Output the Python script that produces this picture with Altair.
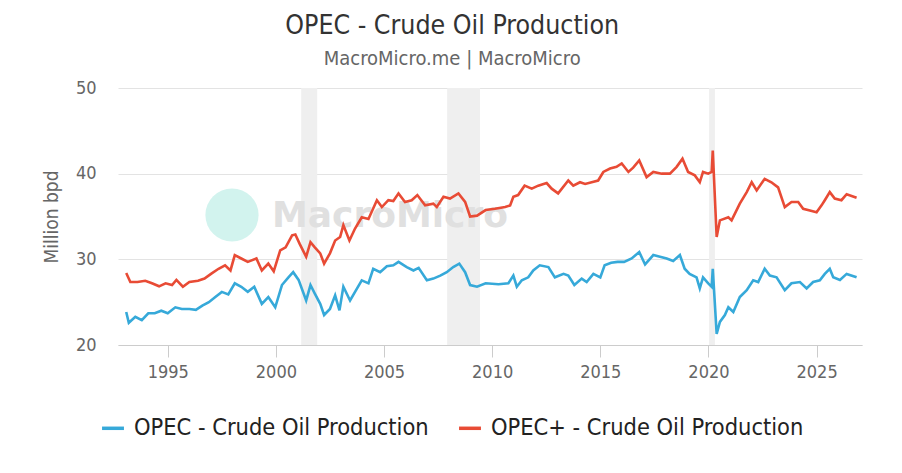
import altair as alt
import pandas as pd

# ---- data ----
opec_years = [1993.08, 1993.2, 1993.5, 1993.8, 1994.1, 1994.4, 1994.7, 1995.0, 1995.35, 1995.65,
              1996.0, 1996.3, 1996.6, 1996.9, 1997.2, 1997.5, 1997.8, 1998.1, 1998.4, 1998.7,
              1999.0, 1999.35, 1999.65, 1999.97, 2000.28, 2000.58, 2000.8, 2001.05, 2001.4, 2001.6,
              2001.8, 2002.05, 2002.23, 2002.5, 2002.74, 2002.94, 2003.12, 2003.43, 2003.66, 2003.97,
              2004.28, 2004.5, 2004.82, 2005.13, 2005.43, 2005.67, 2006.05, 2006.36, 2006.6, 2006.98,
              2007.28, 2007.6, 2007.9, 2008.2, 2008.48, 2008.75, 2008.98, 2009.3, 2009.7, 2010.29,
              2010.75, 2010.98, 2011.14, 2011.37, 2011.67, 2011.9, 2012.2, 2012.6, 2012.9, 2013.3,
              2013.52, 2013.8, 2014.14, 2014.37, 2014.68, 2015.0, 2015.2, 2015.5, 2015.8, 2016.1,
              2016.45, 2016.8, 2017.07, 2017.45, 2017.76, 2018.07, 2018.37, 2018.68, 2018.9, 2019.13,
              2019.45, 2019.6, 2019.75, 2019.99, 2020.15, 2020.2, 2020.38, 2020.53, 2020.76, 2020.92,
              2021.15, 2021.45, 2021.77, 2022.07, 2022.3, 2022.6, 2022.84, 2023.15, 2023.53, 2023.84,
              2024.23, 2024.54, 2024.84, 2025.15, 2025.38, 2025.61, 2025.77, 2026.08, 2026.39, 2026.85]
opec_values = [23.85, 22.6, 23.3, 22.9, 23.7, 23.7, 24.0, 23.7, 24.4, 24.2,
               24.2, 24.1, 24.6, 25.0, 25.6, 26.2, 25.9, 27.2, 26.8, 26.2,
               26.8, 24.8, 25.6, 24.4, 27.0, 27.9, 28.5, 27.6, 25.2, 27.0,
               26.0, 24.8, 23.5, 24.2, 25.8, 24.05, 26.8, 25.2, 26.2, 27.55,
               27.2, 28.9, 28.5, 29.2, 29.3, 29.7, 29.1, 28.7, 29.0, 27.55,
               27.75, 28.1, 28.5, 29.1, 29.5, 28.5, 27.0, 26.8, 27.2, 27.1,
               27.2, 28.1, 26.8, 27.55, 27.9, 28.7, 29.3, 29.1, 27.9, 28.3,
               28.1, 27.0, 27.75, 27.35, 28.3, 27.9, 29.3, 29.6, 29.7, 29.7,
               30.1, 30.85, 29.4, 30.5, 30.3, 30.1, 29.8, 30.5, 28.9, 28.3,
               27.9, 26.6, 27.9, 27.2, 26.8, 28.9, 21.3, 22.7, 23.5, 24.4,
               23.85, 25.6, 26.4, 27.55, 27.35, 28.9, 28.1, 27.9, 26.4, 27.2,
               27.35, 26.6, 27.35, 27.55, 28.3, 28.9, 27.9, 27.6, 28.3, 27.9]

plus_years = [1993.08, 1993.27, 1993.6, 1993.96, 1994.27, 1994.6, 1994.9, 1995.2, 1995.4, 1995.7,
              1996.0, 1996.4, 1996.7, 1997.0, 1997.35, 1997.65, 1997.9, 1998.1, 1998.4, 1998.7,
              1999.1, 1999.35, 1999.65, 1999.9, 2000.2, 2000.45, 2000.75, 2000.9, 2001.1, 2001.4,
              2001.6, 2001.8, 2002.05, 2002.23, 2002.5, 2002.74, 2002.97, 2003.12, 2003.4, 2003.66,
              2003.97, 2004.28, 2004.67, 2004.9, 2005.2, 2005.43, 2005.67, 2005.97, 2006.28, 2006.54,
              2006.9, 2007.28, 2007.44, 2007.75, 2008.05, 2008.44, 2008.75, 2008.98, 2009.3, 2009.7,
              2010.13, 2010.6, 2010.83, 2010.98, 2011.2, 2011.5, 2011.83, 2012.13, 2012.52, 2012.75,
              2013.05, 2013.52, 2013.75, 2014.06, 2014.3, 2014.6, 2014.9, 2015.14, 2015.45, 2015.75,
              2015.99, 2016.3, 2016.52, 2016.8, 2017.14, 2017.45, 2017.84, 2018.22, 2018.53, 2018.8,
              2019.06, 2019.37, 2019.6, 2019.75, 2019.99, 2020.15, 2020.2, 2020.38, 2020.53, 2020.92,
              2021.07, 2021.45, 2021.77, 2022.0, 2022.23, 2022.6, 2022.91, 2023.22, 2023.53, 2023.84,
              2024.15, 2024.38, 2024.69, 2025.0, 2025.23, 2025.38, 2025.61, 2025.84, 2026.15, 2026.39,
              2026.85]
plus_values = [28.4, 27.35, 27.35, 27.5, 27.2, 26.85, 27.2, 27.0, 27.6, 26.8,
               27.35, 27.5, 27.75, 28.3, 28.9, 29.3, 28.7, 30.5, 30.1, 29.7,
               30.1, 28.7, 29.5, 28.6, 31.05, 31.4, 32.8, 32.9, 31.8, 30.3,
               32.0, 31.4, 30.7, 29.5, 30.7, 32.2, 32.6, 34.0, 32.2, 33.6,
               34.9, 34.7, 36.9, 36.1, 36.9, 36.8, 37.7, 36.7, 36.9, 37.5,
               36.3, 36.5, 36.1, 37.3, 37.1, 37.7, 36.7, 35.0, 35.1, 35.75,
               35.9, 36.1, 36.3, 37.3, 37.5, 38.6, 38.25, 38.6, 38.9, 38.25,
               37.7, 39.2, 38.6, 39.0, 38.8, 39.0, 39.2, 40.2, 40.6, 40.8,
               41.2, 40.2, 40.7, 41.55, 39.6, 40.2, 40.0, 40.0, 40.8, 41.75,
               40.2, 39.8, 39.0, 40.2, 40.0, 40.2, 42.7, 32.6, 34.55, 34.9,
               34.55, 36.5, 37.85, 39.0, 38.05, 39.4, 39.0, 38.4, 36.1, 36.7,
               36.7, 35.9, 35.7, 35.5, 36.3, 36.9, 37.85, 37.1, 36.9, 37.6,
               37.2]

series_names = ["OPEC - Crude Oil Production", "OPEC+ - Crude Oil Production"]
series_colors = ["#36a9d9", "#e84b35"]

band_starts = [2001.17, 2007.92, 2020.03]
band_ends = [2001.91, 2009.44, 2020.30]

x_ticks = [1995, 2000, 2005, 2010, 2015, 2020, 2025]
y_ticks = [20, 30, 40, 50]

# ---- tables ----
lines_df = pd.concat([
    pd.DataFrame({"year": opec_years, "value": opec_values, "series": series_names[0]}),
    pd.DataFrame({"year": plus_years, "value": plus_values, "series": series_names[1]}),
], ignore_index=True)
bands_df = pd.DataFrame({"start": band_starts, "end": band_ends})

FONT = "DejaVu Sans Condensed"
W, H = 744, 257

x_scale = alt.Scale(domain=[1992.7, 2027.1], nice=False, zero=False)
y_scale = alt.Scale(domain=[20, 50], nice=False, zero=False)

bands = alt.Chart(bands_df).mark_rect(color="#efefef").encode(
    x=alt.X("start:Q", scale=x_scale),
    x2="end:Q",
)

logo = alt.Chart(pd.DataFrame({"k": [0]})).mark_point(
    filled=True, shape="circle", size=2830, color="#d2f3ee", opacity=1
).encode(x=alt.value(114), y=alt.value(127))

watermark = alt.Chart(pd.DataFrame({"t": ["MacroMicro"]})).mark_text(
    font="DejaVu Sans", fontSize=36, fontWeight="bold", color="#e0e0e0",
    align="left", baseline="middle"
).encode(x=alt.value(154), y=alt.value(128), text="t:N")

lines = alt.Chart(lines_df).mark_line(strokeWidth=2.6, interpolate="linear").encode(
    x=alt.X("year:Q", scale=x_scale,
            axis=alt.Axis(values=x_ticks, format="d", title=None, grid=False,
                          domain=True, domainColor="#cccccc", ticks=True, tickColor="#cccccc",
                          tickSize=12, labelPadding=6, labelFontSize=18, labelColor="#666666",
                          labelFont=FONT)),
    y=alt.Y("value:Q", scale=y_scale,
            axis=alt.Axis(values=y_ticks, title="Million bpd", grid=True, gridColor="#e3e3e3",
                          domain=False, ticks=False, labelPadding=22, labelFontSize=18,
                          labelColor="#666666", labelFont=FONT, titleFont=FONT,
                          titleFontSize=19, titleFontWeight="normal", titleColor="#666666",
                          titlePadding=14)),
    color=alt.Color("series:N",
                    scale=alt.Scale(domain=series_names, range=series_colors),
                    legend=alt.Legend(orient="none", legendX=-18, legendY=327, direction="horizontal",
                                      title=None, symbolType="stroke", symbolSize=480,
                                      symbolStrokeWidth=3.5, labelFontSize=23.4, labelFont=FONT,
                                      labelColor="#222222", columnPadding=23, labelOffset=8,
                                      labelLimit=500)),
    order="year:Q",
)

chart = alt.layer(bands, logo, watermark, lines).properties(
    width=W, height=H,
    background="white",
    title=alt.TitleParams(
        text="OPEC - Crude Oil Production",
        subtitle="MacroMicro.me | MacroMicro",
        font=FONT, subtitleFont=FONT,
        fontSize=26.5, fontWeight="normal", color="#333333",
        subtitleFontSize=20, subtitleColor="#666666",
        anchor="middle", frame="bounds", offset=10, subtitlePadding=10,
    ),
    autosize=alt.AutoSizeParams(type="none"),
    padding={"left": 118, "top": 88, "right": 40, "bottom": 128},
).configure_view(stroke=None)

chart.save("out.html", embed_options={"renderer": "svg", "actions": False})
